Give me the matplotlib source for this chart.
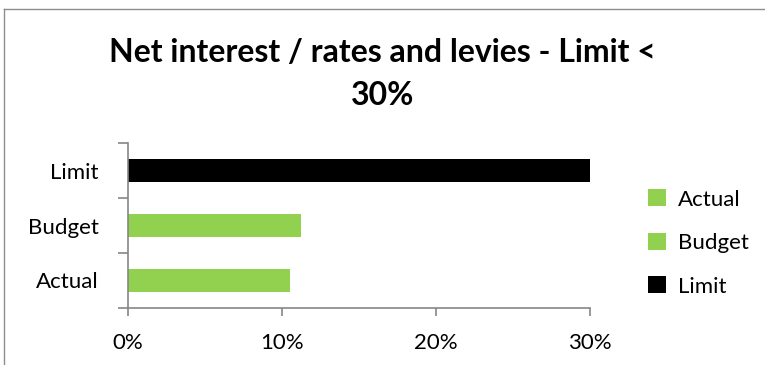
import matplotlib
matplotlib.use("Agg")
import matplotlib.pyplot as plt
from matplotlib.patches import Patch
from matplotlib.lines import Line2D
from matplotlib.ticker import FuncFormatter, FixedLocator

# data
categories = ["Actual", "Budget", "Limit"]
values = [0.1052, 0.1123, 0.30]
bar_colors = ["#92D050", "#92D050", "#000000"]
x_ticks = [0.0, 0.1, 0.2, 0.3]

plt.rcParams["font.family"] = ["Lato", "DejaVu Sans"]

fig = plt.figure(figsize=(7.65, 3.65), dpi=100)

# outer chart frame: only left and top edges show in the picture
fx, fy = 4 / 765, 1 - 9 / 365
fig.lines.append(Line2D([fx, fx], [0, fy], transform=fig.transFigure,
                        color="#8c8c8c", linewidth=1.0))
fig.lines.append(Line2D([fx, 1], [fy, fy], transform=fig.transFigure,
                        color="#8c8c8c", linewidth=1.0))

ax = fig.add_axes([128 / 765, 1 - 308 / 365, 462 / 765, 165 / 365])

pos = list(range(len(categories)))
ax.barh(pos, values, height=0.42, color=bar_colors)

ax.set_xlim(0, 0.30)
ax.set_ylim(-0.5, len(categories) - 0.5)
ax.set_xticks(x_ticks)
ax.xaxis.set_major_formatter(FuncFormatter(lambda v, p: f"{v * 100:.0f}%"))
ax.set_yticks(pos)
ax.set_yticklabels(categories)
ax.yaxis.set_minor_locator(FixedLocator([-0.5, 0.5, 1.5, 2.5]))

for s in ["top", "right"]:
    ax.spines[s].set_visible(False)
for s in ["left", "bottom"]:
    ax.spines[s].set_color("#868686")
    ax.spines[s].set_linewidth(1.2)

ax.tick_params(axis="y", which="major", length=0, pad=21, labelsize=16)
ax.tick_params(axis="y", which="minor", length=7, color="#868686", width=1.2)
ax.tick_params(axis="x", which="major", length=6, color="#868686", width=1.2,
               pad=12, labelsize=16)

fig.text(0.5, 1 - 74 / 365, "Net interest / rates and levies - Limit <\n30%",
         ha="center", va="center", fontsize=23, fontweight="bold",
         linespacing=1.55)

handles = [Patch(facecolor=c, edgecolor="none") for c in bar_colors]
fig.legend(handles, categories, loc="center left",
           bbox_to_anchor=(637 / 765, 1 - 243 / 365), frameon=False,
           fontsize=16, handlelength=0.8, handleheight=0.8,
           handletextpad=0.55, labelspacing=1.05, borderpad=0)

fig.savefig("out.png", dpi=100, facecolor="white")
